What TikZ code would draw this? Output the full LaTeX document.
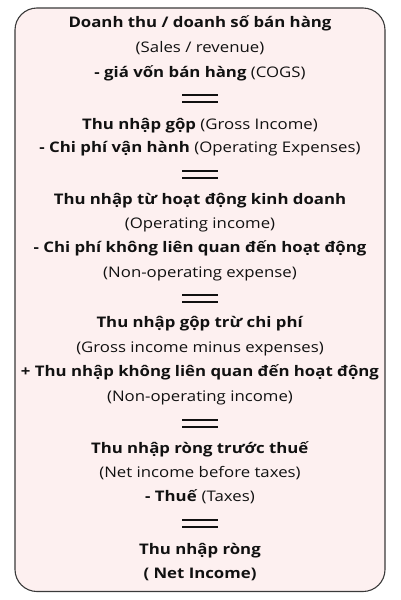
\documentclass[tikz,border=0pt]{standalone}
\usepackage{fontspec}
\setmainfont[FakeStretch=1.15]{Open Sans}
\definecolor{boxfill}{HTML}{FDF0F0}
\definecolor{boxline}{HTML}{3A3A3A}
\definecolor{txt}{HTML}{111111}
\tikzset{
  panel/.style={draw=boxline, line width=1.1pt, fill=boxfill, rounded corners=22pt},
  line/.style={anchor=base, inner sep=0pt, text=txt, font=\fontsize{14.6}{16}\selectfont},
  eqbar/.style={draw=txt, line width=2.2pt},
}
\newcommand{\eqsign}[1]{%
  \draw[eqbar] (182,#1-3.6) -- (218,#1-3.6);
  \draw[eqbar] (182,#1+3.6) -- (218,#1+3.6);}
\begin{document}
\begin{tikzpicture}[x=1pt,y=-1pt]
\useasboundingbox (0,0) rectangle (400,600);
\fill[white] (0,0) rectangle (400,600);
\draw[panel] (15,8) rectangle (385,591.5);
\node[line] (l1) at (200,27.7) {\textbf{Doanh thu / doanh số bán hàng}};
\node[line] (l2) at (200,52) {(Sales / revenue)};
\node[line] (l3) at (200,77.3) {\textbf{- giá vốn bán hàng} (COGS)};
\eqsign{98.3}
\node[line] (l4) at (200,129) {\textbf{Thu nhập gộp} (Gross Income)};
\node[line] (l5) at (200,152.7) {\textbf{- Chi phí vận hành} (Operating Expenses)};
\eqsign{174.5}
\node[line] (l6) at (200,204) {\textbf{Thu nhập từ hoạt động kinh doanh}};
\node[line] (l7) at (200,228.3) {(Operating income)};
\node[line] (l8) at (200,252.7) {\textbf{- Chi phí không liên quan đến hoạt động}};
\node[line] (l9) at (200,277.3) {(Non-operating expense)};
\eqsign{298.5}
\node[line] (l10) at (200,327.7) {\textbf{Thu nhập gộp trừ chi phí}};
\node[line] (l11) at (200,352.7) {(Gross income minus expenses)};
\node[line] (l12) at (200,376.7) {\textbf{+ Thu nhập không liên quan đến hoạt động}};
\node[line] (l13) at (200,401) {(Non-operating income)};
\eqsign{423.2}
\node[line] (l14) at (200,453.3) {\textbf{Thu nhập ròng trước thuế}};
\node[line] (l15) at (200,477.3) {(Net income before taxes)};
\node[line] (l16) at (200,501.7) {\textbf{- Thuế} (Taxes)};
\eqsign{523.5}
\node[line] (l17) at (200,554.3) {\textbf{Thu nhập ròng}};
\node[line] (l18) at (200,578.3) {\textbf{( Net Income)}};
\end{tikzpicture}
\end{document}
